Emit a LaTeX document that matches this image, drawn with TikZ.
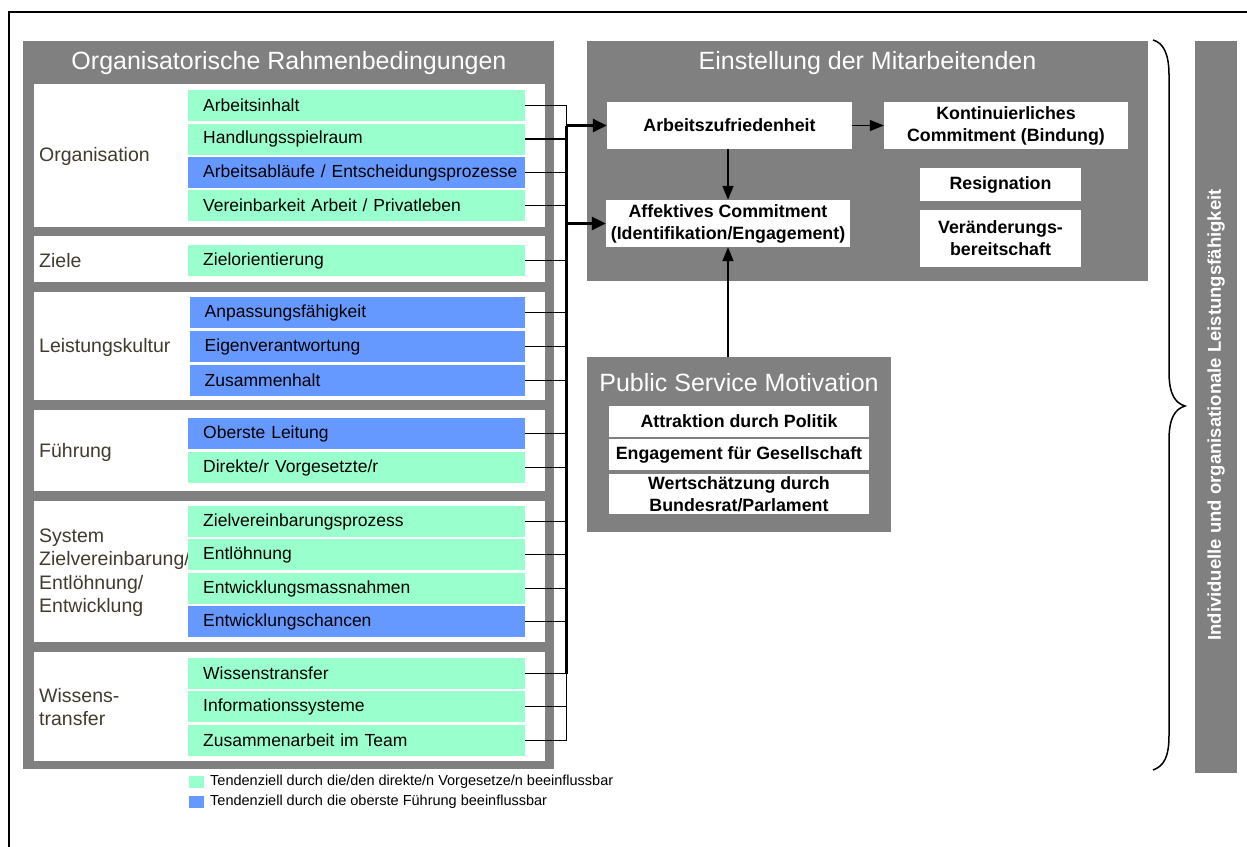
\documentclass[tikz,border=0pt]{standalone}
\usepackage{fontspec}
\setmainfont{Liberation Sans}
\usetikzlibrary{arrows.meta}
\definecolor{pgray}{RGB}{128,128,128}
\definecolor{igreen}{RGB}{153,255,204}
\definecolor{iblue}{RGB}{102,153,255}
\definecolor{lbl}{RGB}{64,60,45}
\newcommand{\itx}[1]{\hspace*{15pt}#1}
\begin{document}
\begin{tikzpicture}[x=1pt,y=-1pt,
  item/.style={anchor=west, inner xsep=0pt, inner ysep=0pt, text width=337pt, align=left,
    minimum height=31pt, font=\fontsize{17.5}{20}\selectfont, text=black},
  gitem/.style={item, fill=igreen},
  bitem/.style={item, fill=iblue},
  grouplbl/.style={anchor=west, align=left, inner sep=0pt, text=lbl, font=\fontsize{19.5}{23.5}\selectfont},
  ptitle/.style={text=white, inner sep=0pt, font=\fontsize{25}{28}\selectfont},
  wbox/.style={fill=white, inner sep=0pt, align=center, font=\bfseries\fontsize{17.8}{22}\selectfont},
  feed/.style={line width=1.4pt},
  busarrow/.style={line width=2.5pt, -{Triangle[length=14pt,width=13pt]}},
  inarrow/.style={line width=1.6pt, -{Triangle[length=14pt,width=11pt]}},
  legtext/.style={anchor=west, inner sep=0pt, font=\fontsize{14.5}{17}\selectfont}
]
\useasboundingbox (0,0) rectangle (1247,846);
% outer frame
\draw[line width=2pt] (9,900) -- (9,12) -- (1300,12);

% left panel
\fill[pgray] (23,41) rectangle (554,769);
\node[ptitle] (tOrg) at (289,63) {Organisatorische Rahmenbedingungen};
\fill[white] (34,84) rectangle (545,227);
\fill[white] (34,236) rectangle (545,282);
\fill[white] (34,292) rectangle (545,400);
\fill[white] (34,410) rectangle (545,491);
\fill[white] (34,501) rectangle (545,642);
\fill[white] (34,652) rectangle (545,761);

% group labels
\node[grouplbl] (gOrg) at (39,156) {Organisation};
\node[grouplbl] (gZiele) at (39,261) {Ziele};
\node[grouplbl] (gLK) at (39,347) {Leistungskultur};
\node[grouplbl] (gFu) at (39,452) {Führung};
\node[grouplbl] (gSys) at (39,572.5) {System\\Zielvereinbarung/\\Entlöhnung/\\Entwicklung};
\node[grouplbl] (gWi) at (39,707) {Wissens-\\transfer};

% items
\node[gitem] (ai) at (188,105.5) {\itx{Arbeitsinhalt}};
\node[gitem] (hs) at (188,139) {\itx{Handlungsspielraum}};
\node[bitem] (ab) at (188,172.5) {\itx{Arbeitsabläufe / Entscheidungsprozesse}};
\node[gitem] (vb) at (188,205.5) {\itx{Vereinbarkeit Arbeit / Privatleben}};
\node[gitem] (zo) at (188,260.5) {\itx{Zielorientierung}};
\node[bitem, text width=335.5pt] (an) at (189.5,312.5) {\itx{Anpassungsfähigkeit}};
\node[bitem, text width=335.5pt] (ev) at (189.5,346.5) {\itx{Eigenverantwortung}};
\node[bitem, text width=335.5pt] (zh) at (189.5,380.5) {\itx{Zusammenhalt}};
\node[bitem] (ol) at (188,433.5) {\itx{Oberste Leitung}};
\node[gitem] (dv) at (188,467.5) {\itx{Direkte/r Vorgesetzte/r}};
\node[gitem] (zp) at (188,521.5) {\itx{Zielvereinbarungsprozess}};
\node[gitem] (el) at (188,554.5) {\itx{Entlöhnung}};
\node[gitem] (em) at (188,588.5) {\itx{Entwicklungsmassnahmen}};
\node[bitem] (ec) at (188,621.5) {\itx{Entwicklungschancen}};
\node[gitem] (wt) at (188,673.5) {\itx{Wissenstransfer}};
\node[gitem] (is) at (188,706.5) {\itx{Informationssysteme}};
\node[gitem] (za) at (188,740.5) {\itx{Zusammenarbeit im Team}};

% right panel: Einstellung
\fill[pgray] (587,41) rectangle (1148,281);
\node[ptitle] (tEin) at (867.5,63) {Einstellung der Mitarbeitenden};
\node[wbox, minimum width=245pt, minimum height=47pt] (az) at (729.5,125.5) {Arbeitszufriedenheit};
\node[wbox, minimum width=244pt, minimum height=47pt] (kc) at (1006,125.5) {Kontinuierliches\\Commitment (Bindung)};
\node[wbox, minimum width=161pt, minimum height=33pt] (re) at (1000.5,184.5) {Resignation};
\node[wbox, minimum width=161pt, minimum height=57pt] (vr) at (1000.5,238.5) {Veränderungs-\\bereitschaft};
\node[wbox, minimum width=244pt, minimum height=47pt] (ac) at (728,223.5) {Affektives Commitment\\(Identifikation/Engagement)};

% PSM panel
\fill[pgray] (587,357) rectangle (891,532);
\coordinate (psmTop) at (728,357);
\node[ptitle] (tPsm) at (739,383) {Public Service Motivation};
\node[wbox, minimum width=260pt, minimum height=31pt] (p1) at (739,421.5) {Attraktion durch Politik};
\node[wbox, minimum width=260pt, minimum height=31pt] (p2) at (739,454.5) {Engagement für Gesellschaft};
\node[wbox, minimum width=260pt, minimum height=40pt] (p3) at (739,494) {Wertschätzung durch\\Bundesrat/Parlament};

% bus
\coordinate (bus) at (566.5,105.5);
\foreach \n in {ai,hs,ab,vb,zo,an,ev,zh,ol,dv,zp,el,em,ec,wt,is,za}
  \draw[feed] (\n.east) -- (\n.east -| bus);
\draw[line width=1.4pt] (ai.east -| bus) -- (za.east -| bus);
\draw[line width=2.4pt] (az.west -| bus) -- (wt.east -| bus);
\draw[busarrow] (az.west -| bus) -- (az.west);
\draw[busarrow] (ac.west -| bus) -- (ac.west);

% inner arrows
\draw[inarrow] (az.east) -- (kc.west);
\draw[inarrow] (az.south -| ac.north) -- (ac.north);
\draw[inarrow] (psmTop) -- (ac.south);

% brace
\draw[line width=1.5pt] (1153,40) .. controls (1164,43) and (1169,55) .. (1169,75)
  -- (1169,372) .. controls (1169,394) and (1175,403) .. (1185,406)
  .. controls (1175,409) and (1169,418) .. (1169,440)
  -- (1169,735) .. controls (1169,757) and (1164,766) .. (1153,770);

% right bar
\fill[pgray] (1195,41) rectangle (1237,773);
\node[rotate=90, text=white, inner sep=0pt, font=\bfseries\fontsize{18.5}{21}\selectfont] (perf) at (1216,415) {Individuelle und organisationale Leistungsfähigkeit};

% legend
\node[fill=igreen, minimum width=15pt, minimum height=12pt, inner sep=0pt] (legG) at (196.5,782) {};
\node[fill=iblue, minimum width=15pt, minimum height=12pt, inner sep=0pt] (legB) at (196.5,801.5) {};
\node[legtext] (legGt) at (210,782) {Tendenziell durch die/den direkte/n Vorgesetze/n beeinflussbar};
\node[legtext] (legBt) at (210,801.5) {Tendenziell durch die oberste Führung beeinflussbar};
\end{tikzpicture}
\end{document}
